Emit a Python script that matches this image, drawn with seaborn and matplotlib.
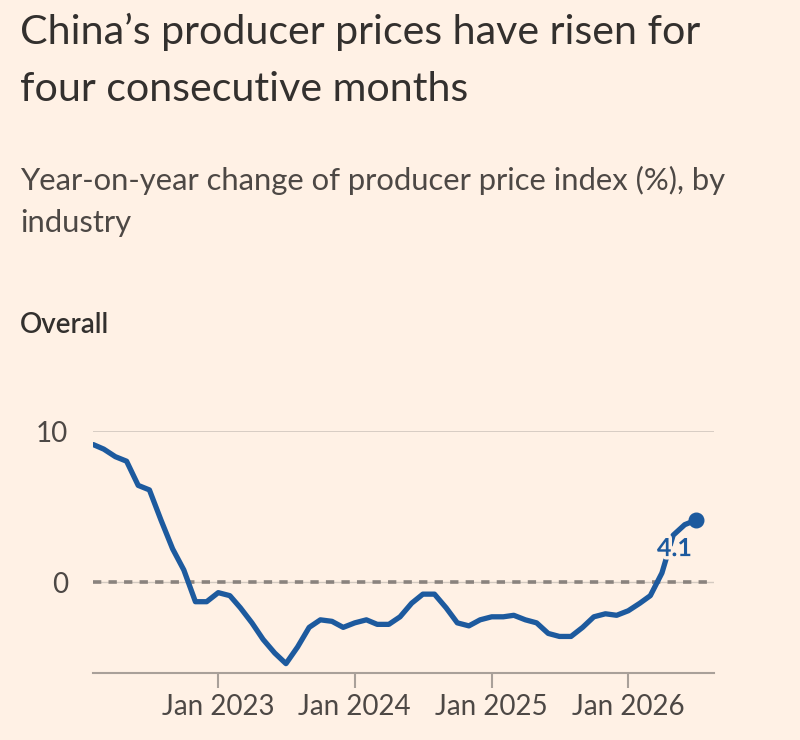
import numpy as np
import pandas as pd
import matplotlib
matplotlib.use("Agg")
import matplotlib.pyplot as plt
import matplotlib.dates as mdates
import matplotlib.patheffects as pe
import seaborn as sns

# ---- data ----
months = pd.date_range("2022-02-01", "2026-07-01", freq="MS")
ppi = [9.1, 8.8, 8.3, 8.0, 6.4, 6.1, 4.1, 2.2, 0.8,
       -1.3, -1.3, -0.7, -0.9, -1.7, -2.7, -3.8, -4.7, -5.4,
       -4.3, -3.0, -2.5, -2.6, -3.0, -2.7, -2.5, -2.8, -2.8,
       -2.3, -1.4, -0.8, -0.8, -1.7, -2.7, -2.9, -2.5, -2.3,
       -2.3, -2.2, -2.5, -2.7, -3.4, -3.6, -3.6, -3.0, -2.3,
       -2.1, -2.2, -1.9, -1.4, -0.9, 0.6, 3.1, 3.8, 4.1]
y_ticks = [0, 10]
y_tick_labels = ["0", "10"]
title_lines = ["China\u2019s producer prices have risen for", "four consecutive months"]
subtitle_lines = ["Year-on-year change of producer price index (%), by", "industry"]
panel_title = "Overall"
last_label = "4.1"

df = pd.DataFrame({"month": months, "ppi": ppi})

BG = "#FFF1E5"
TEXT = "#33302E"
TICK = "#4D4845"
BLUE = "#1D5A9E"
GRID = "#D4CAC1"
AXIS = "#A9A099"

sns.set_theme(style="white")
plt.rcParams["font.family"] = ["Lato", "DejaVu Sans"]

W, H = 800, 740
fig = plt.figure(figsize=(W / 100, H / 100), dpi=100, facecolor=BG)
ax = fig.add_axes([93.3 / W, 1 - 672.7 / H, (714.3 - 93.3) / W, (672.7 - 431) / H])
ax.set_facecolor(BG)

ax.axhline(10, color=GRID, lw=1.3, zorder=1)
ax.axhline(0, color=GRID, lw=1.0, zorder=1)
ax.axhline(0, color="#8A837E", lw=2.6, ls=(0, (2.3, 2.0)), dash_capstyle="butt", zorder=2)

sns.lineplot(data=df, x="month", y="ppi", ax=ax, color=BLUE, lw=3.8,
             solid_joinstyle="round", solid_capstyle="round", zorder=3)
ax.plot(df["month"].iloc[-1], df["ppi"].iloc[-1], "o", color=BLUE, ms=10.5, zorder=4)
ax.annotate(last_label, (df["month"].iloc[-1], df["ppi"].iloc[-1]),
            xytext=(-15.5, -20.5), textcoords="offset points",
            ha="center", va="center", fontsize=18, fontweight="bold", color=BLUE,
            path_effects=[pe.withStroke(linewidth=5, foreground=BG)], zorder=5)

ax.set_xlim(pd.Timestamp("2022-02-01"), pd.Timestamp("2026-08-19"))
ax.set_ylim(-6, 10)
ax.set_yticks(y_ticks)
ax.set_yticklabels(y_tick_labels)
ax.xaxis.set_major_locator(mdates.YearLocator(month=1, day=1))
ax.xaxis.set_major_formatter(mdates.DateFormatter("%b %Y"))
ax.set_xlabel("")
ax.set_ylabel("")

for s in ["top", "right", "left"]:
    ax.spines[s].set_visible(False)
ax.spines["bottom"].set_color(AXIS)
ax.spines["bottom"].set_linewidth(1.5)
ax.tick_params(axis="x", length=11, width=1.5, color=AXIS, labelsize=20,
               labelcolor=TICK, pad=4, direction="out", bottom=True)
ax.tick_params(axis="y", length=0, labelsize=20, labelcolor=TICK, pad=18)
ax.grid(False)

# ---- texts ----
def fy(px):
    return 1 - px / H

fig.text(20 / W, fy(44), title_lines[0], fontsize=29.6, color=TEXT, va="baseline", ha="left")
fig.text(20 / W, fy(101), title_lines[1], fontsize=29.6, color=TEXT, va="baseline", ha="left")
fig.text(20 / W, fy(190), subtitle_lines[0], fontsize=22.3, color="#4D4845", va="baseline", ha="left")
fig.text(20 / W, fy(232), subtitle_lines[1], fontsize=22.3, color="#4D4845", va="baseline", ha="left")
fig.text(20 / W, fy(333), panel_title, fontsize=20, fontweight="semibold", color=TEXT,
         va="baseline", ha="left")

fig.savefig("out.png", dpi=100, facecolor=BG)
